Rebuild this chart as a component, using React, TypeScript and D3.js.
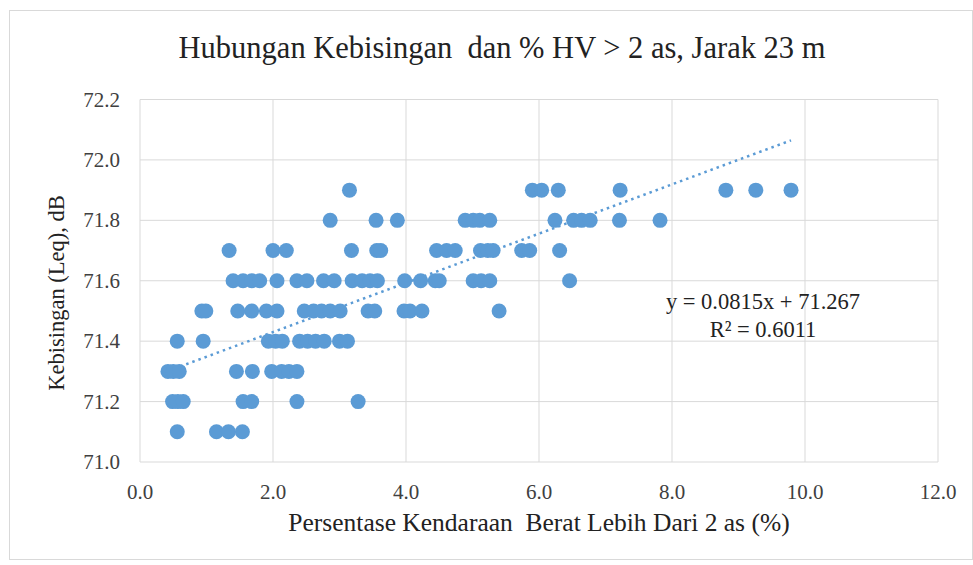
import { useEffect, useRef } from 'react';
import * as d3 from 'd3';

// Persentase HV > 2 as (%) for each noise level (Leq, dB)
const levels = [71.1, 71.2, 71.3, 71.4, 71.5, 71.6, 71.7, 71.8, 71.9];
const hv711 = [0.56, 1.15, 1.33, 1.54];
const hv712 = [0.49, 0.57, 0.65, 1.55, 1.68, 2.36, 3.28];
const hv713 = [0.42, 0.5, 0.59, 1.45, 1.69, 1.98, 2.13, 2.24, 2.36];
const hv714 = [0.56, 0.95, 1.93, 2.04, 2.14, 2.4, 2.52, 2.64, 2.77, 3.0, 3.12];
const hv715 = [0.93, 0.99, 1.47, 1.68, 1.9, 2.06, 2.47, 2.61, 2.73, 2.86, 3.01, 3.43, 3.53, 3.97, 4.06, 4.24, 5.4];
const hv716 = [1.4, 1.55, 1.68, 1.8, 2.06, 2.36, 2.51, 2.76, 2.92, 3.19, 3.34, 3.46, 3.57, 3.98, 4.22, 4.44, 4.5, 5.01, 5.13, 5.26, 6.46];
const hv717 = [1.34, 2.0, 2.2, 3.18, 3.56, 3.62, 4.46, 4.61, 4.74, 5.12, 5.23, 5.31, 5.74, 5.86, 6.31];
const hv718 = [2.86, 3.55, 3.87, 4.89, 5.01, 5.11, 5.26, 6.24, 6.52, 6.64, 6.77, 7.21, 7.82];
const hv719 = [3.15, 5.9, 6.04, 6.29, 7.22, 8.81, 9.26, 9.79];
const byLevel = [hv711, hv712, hv713, hv714, hv715, hv716, hv717, hv718, hv719];

const xTicks = [0, 2, 4, 6, 8, 10, 12];
const yTicks = [71.0, 71.2, 71.4, 71.6, 71.8, 72.0, 72.2];

// trendline from the chart label
const slope = 0.0815;
const intercept = 71.267;
const r2 = 0.6011;

const App = () => {
  const ref = useRef<SVGSVGElement>(null);

  useEffect(() => {
    const width = 973;
    const height = 565;
    const margin = { top: 99.5, right: 35, bottom: 103, left: 140 };
    const font = 'Liberation Serif';
    const blue = '#5b9bd5';
    const grid = '#d9d9d9';

    const svg = d3.select(ref.current);
    svg.selectAll('*').remove();

    const points = levels.flatMap((lv, i) => byLevel[i].map(x => ({ x, y: lv })));

    const x = d3.scaleLinear().domain([0, 12]).range([margin.left, width - margin.right]);
    const y = d3.scaleLinear().domain([71.0, 72.2]).range([height - margin.bottom, margin.top]);

    // outer chart border
    svg.append('rect')
      .attr('x', 9.5).attr('y', 10.5)
      .attr('width', width - 10).attr('height', height - 16)
      .attr('fill', '#fff').attr('stroke', grid);

    // gridlines
    svg.append('g').selectAll('line').data(yTicks).join('line')
      .attr('x1', x(0)).attr('x2', x(12))
      .attr('y1', d => y(d)).attr('y2', d => y(d))
      .attr('stroke', grid).attr('stroke-width', 1);
    svg.append('g').selectAll('line').data(xTicks).join('line')
      .attr('x1', d => x(d)).attr('x2', d => x(d))
      .attr('y1', y(71.0)).attr('y2', y(72.2))
      .attr('stroke', grid).attr('stroke-width', 1);

    // tick labels
    svg.append('g').selectAll('text').data(xTicks).join('text')
      .attr('x', d => x(d)).attr('y', y(71.0) + 37)
      .attr('text-anchor', 'middle')
      .attr('font-family', font).attr('font-size', 21).attr('fill', '#404040')
      .text(d => d3.format('.1f')(d));
    svg.append('g').selectAll('text').data(yTicks).join('text')
      .attr('x', x(0) - 20).attr('y', d => y(d) + 7)
      .attr('text-anchor', 'end')
      .attr('font-family', font).attr('font-size', 21).attr('fill', '#404040')
      .text(d => d3.format('.1f')(d));

    // trendline
    const ext = d3.extent(points, d => d.x) as [number, number];
    const line = d3.line<number>().x(d => x(d)).y(d => y(slope * d + intercept));
    svg.append('path')
      .attr('d', line(ext))
      .attr('fill', 'none')
      .attr('stroke', blue)
      .attr('stroke-width', 2.5)
      .attr('stroke-dasharray', '2.5 4');

    // points
    svg.append('g').selectAll('circle').data(points).join('circle')
      .attr('cx', d => x(d.x)).attr('cy', d => y(d.y))
      .attr('r', 7.5)
      .attr('fill', blue);

    // equation label
    const eq = svg.append('g')
      .attr('font-family', font).attr('font-size', 22.5).attr('fill', '#222');
    eq.append('text').attr('x', 763).attr('y', 309).attr('text-anchor', 'middle')
      .text(`y = ${slope}x + ${intercept}`);
    eq.append('text').attr('x', 763).attr('y', 337).attr('text-anchor', 'middle')
      .text(`R² = ${r2}`);

    // titles (double spaces kept as in the original)
    svg.append('text')
      .attr('x', 502).attr('y', 58).attr('text-anchor', 'middle')
      .attr('font-family', font).attr('font-size', 30.5).attr('fill', '#222')
      .style('white-space', 'pre')
      .text('Hubungan Kebisingan  dan % HV > 2 as, Jarak 23 m');
    svg.append('text')
      .attr('x', (x(0) + x(12)) / 2).attr('y', 531).attr('text-anchor', 'middle')
      .attr('font-family', font).attr('font-size', 25.5).attr('fill', '#222')
      .style('white-space', 'pre')
      .text('Persentase Kendaraan  Berat Lebih Dari 2 as (%)');
    svg.append('text')
      .attr('transform', `translate(64,293) rotate(-90)`)
      .attr('text-anchor', 'middle')
      .attr('font-family', font).attr('font-size', 22.5).attr('fill', '#222')
      .text('Kebisingan (Leq), dB');
  }, []);

  return (
    <svg
      ref={ref}
      width={973}
      height={565}
      style={{ position: 'absolute', left: 0, top: 0, background: '#fff' }}
    />
  );
};

export default App;
